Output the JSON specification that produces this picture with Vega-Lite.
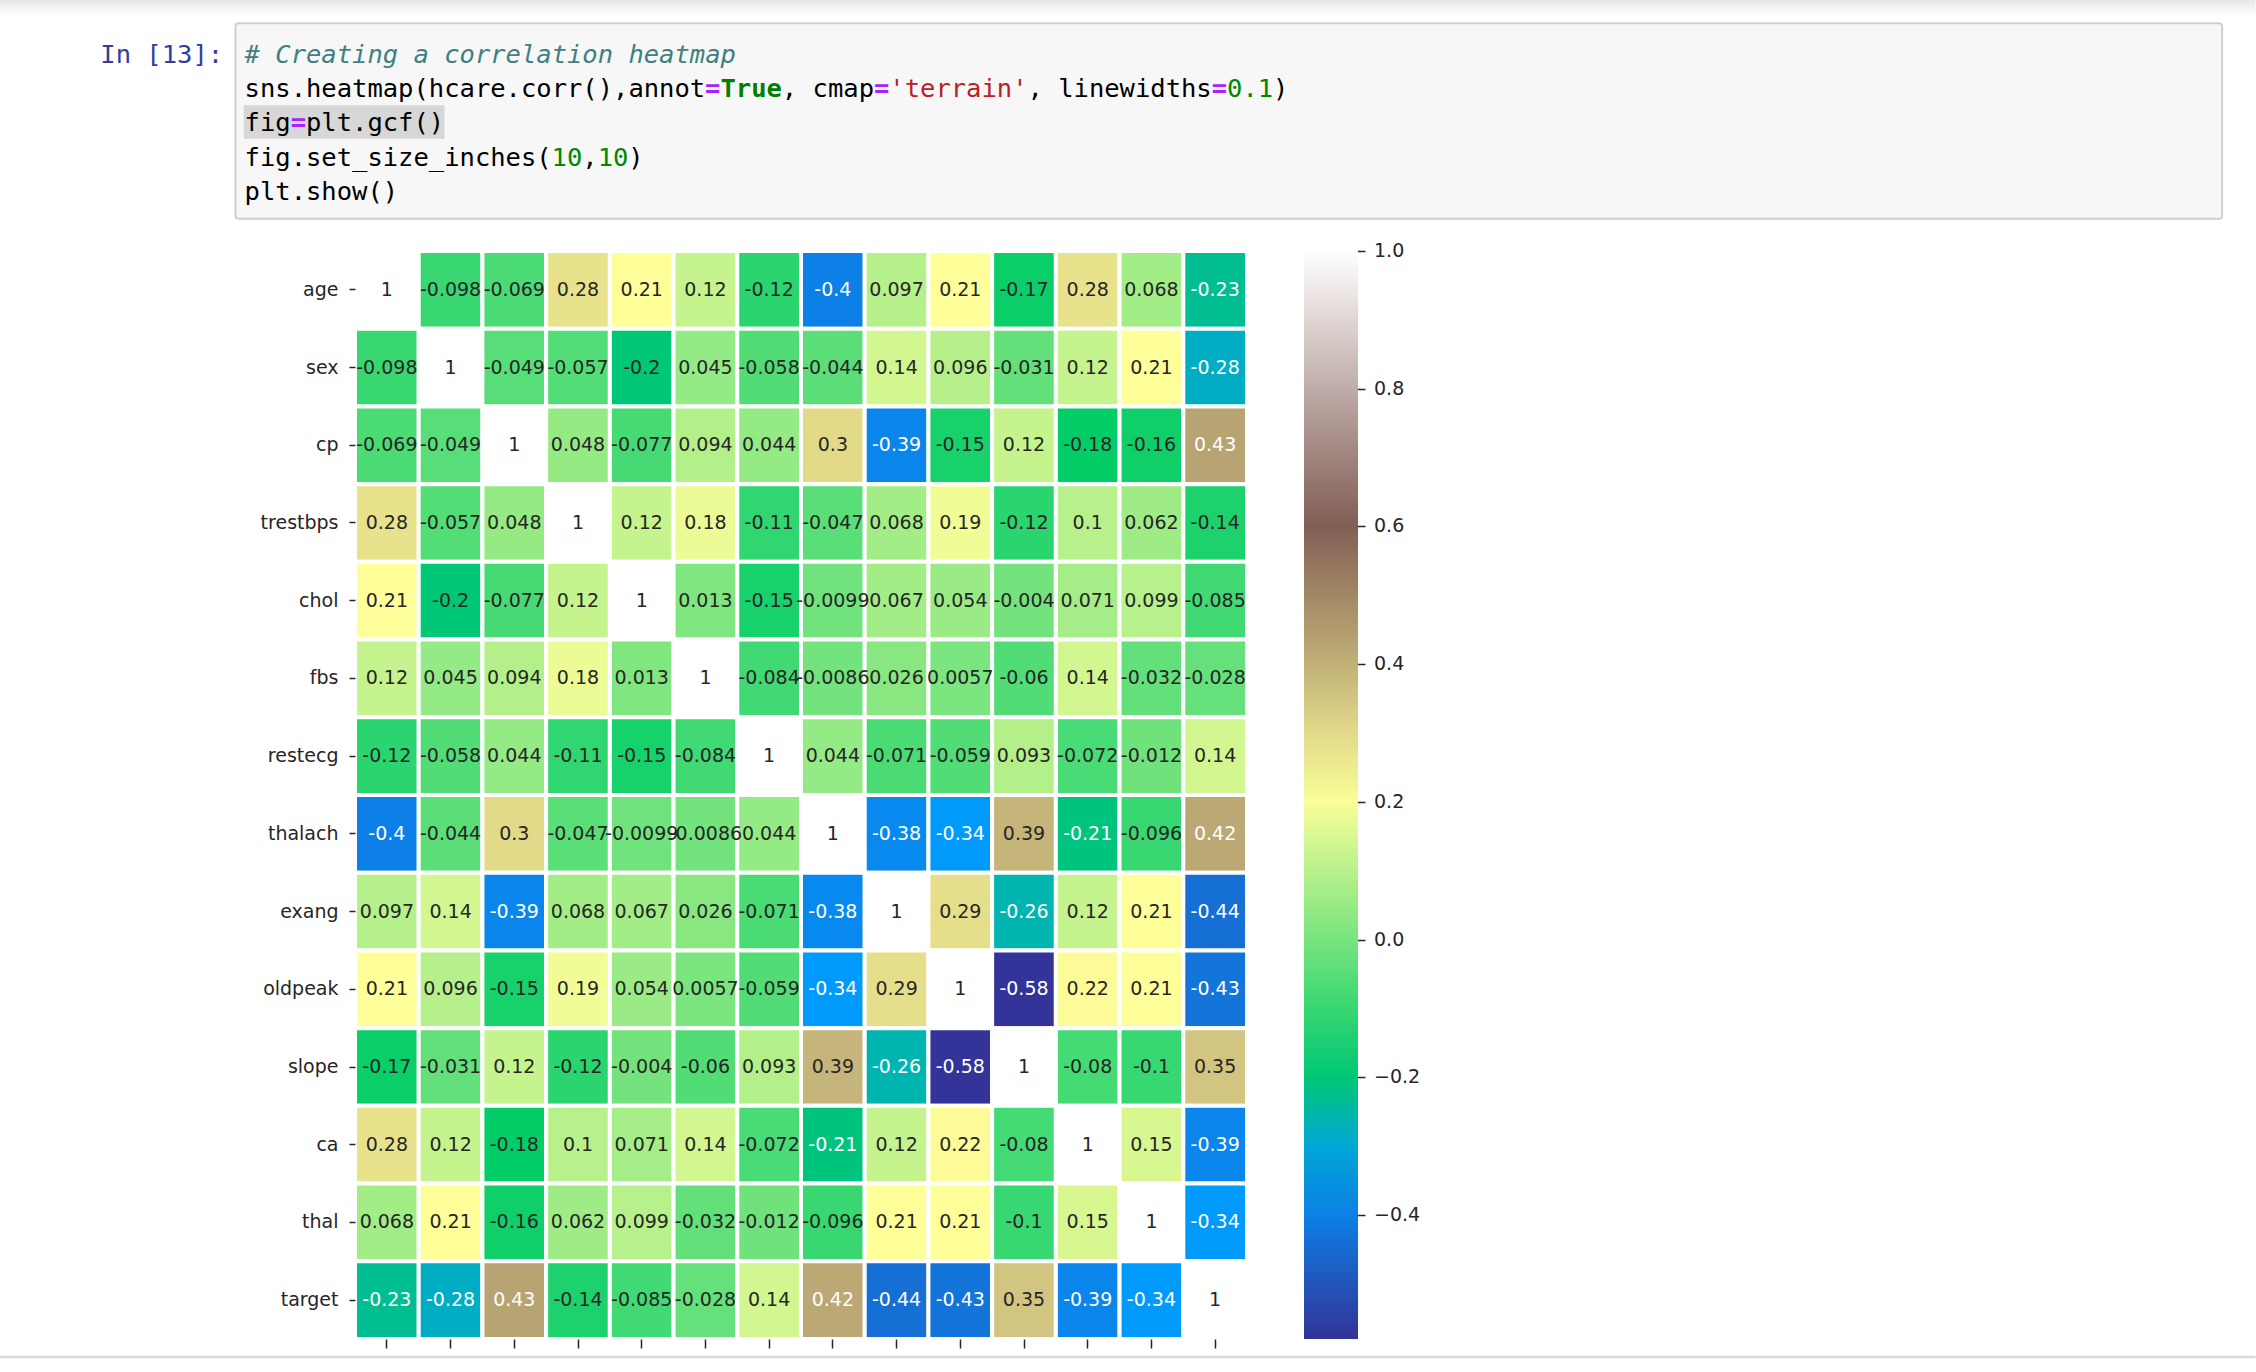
{
  "$schema": "https://vega.github.io/schema/vega-lite/v6.json",
  "width": 892,
  "height": 1088,
  "autosize": {"type": "none"},
  "padding": {"left": 355, "top": 251, "right": 1009, "bottom": 33},
  "background": "white",
  "config": {"view": {"stroke": null}},
  "datasets": {
    "corr": [
      {"r":"age","c":"age","v":1},{"r":"age","c":"sex","v":-0.098},{"r":"age","c":"cp","v":-0.069},{"r":"age","c":"trestbps","v":0.28},{"r":"age","c":"chol","v":0.21},{"r":"age","c":"fbs","v":0.12},{"r":"age","c":"restecg","v":-0.12},{"r":"age","c":"thalach","v":-0.4},{"r":"age","c":"exang","v":0.097},{"r":"age","c":"oldpeak","v":0.21},{"r":"age","c":"slope","v":-0.17},{"r":"age","c":"ca","v":0.28},{"r":"age","c":"thal","v":0.068},{"r":"age","c":"target","v":-0.23},
      {"r":"sex","c":"age","v":-0.098},{"r":"sex","c":"sex","v":1},{"r":"sex","c":"cp","v":-0.049},{"r":"sex","c":"trestbps","v":-0.057},{"r":"sex","c":"chol","v":-0.2},{"r":"sex","c":"fbs","v":0.045},{"r":"sex","c":"restecg","v":-0.058},{"r":"sex","c":"thalach","v":-0.044},{"r":"sex","c":"exang","v":0.14},{"r":"sex","c":"oldpeak","v":0.096},{"r":"sex","c":"slope","v":-0.031},{"r":"sex","c":"ca","v":0.12},{"r":"sex","c":"thal","v":0.21},{"r":"sex","c":"target","v":-0.28},
      {"r":"cp","c":"age","v":-0.069},{"r":"cp","c":"sex","v":-0.049},{"r":"cp","c":"cp","v":1},{"r":"cp","c":"trestbps","v":0.048},{"r":"cp","c":"chol","v":-0.077},{"r":"cp","c":"fbs","v":0.094},{"r":"cp","c":"restecg","v":0.044},{"r":"cp","c":"thalach","v":0.3},{"r":"cp","c":"exang","v":-0.39},{"r":"cp","c":"oldpeak","v":-0.15},{"r":"cp","c":"slope","v":0.12},{"r":"cp","c":"ca","v":-0.18},{"r":"cp","c":"thal","v":-0.16},{"r":"cp","c":"target","v":0.43},
      {"r":"trestbps","c":"age","v":0.28},{"r":"trestbps","c":"sex","v":-0.057},{"r":"trestbps","c":"cp","v":0.048},{"r":"trestbps","c":"trestbps","v":1},{"r":"trestbps","c":"chol","v":0.12},{"r":"trestbps","c":"fbs","v":0.18},{"r":"trestbps","c":"restecg","v":-0.11},{"r":"trestbps","c":"thalach","v":-0.047},{"r":"trestbps","c":"exang","v":0.068},{"r":"trestbps","c":"oldpeak","v":0.19},{"r":"trestbps","c":"slope","v":-0.12},{"r":"trestbps","c":"ca","v":0.1},{"r":"trestbps","c":"thal","v":0.062},{"r":"trestbps","c":"target","v":-0.14},
      {"r":"chol","c":"age","v":0.21},{"r":"chol","c":"sex","v":-0.2},{"r":"chol","c":"cp","v":-0.077},{"r":"chol","c":"trestbps","v":0.12},{"r":"chol","c":"chol","v":1},{"r":"chol","c":"fbs","v":0.013},{"r":"chol","c":"restecg","v":-0.15},{"r":"chol","c":"thalach","v":-0.0099},{"r":"chol","c":"exang","v":0.067},{"r":"chol","c":"oldpeak","v":0.054},{"r":"chol","c":"slope","v":-0.004},{"r":"chol","c":"ca","v":0.071},{"r":"chol","c":"thal","v":0.099},{"r":"chol","c":"target","v":-0.085},
      {"r":"fbs","c":"age","v":0.12},{"r":"fbs","c":"sex","v":0.045},{"r":"fbs","c":"cp","v":0.094},{"r":"fbs","c":"trestbps","v":0.18},{"r":"fbs","c":"chol","v":0.013},{"r":"fbs","c":"fbs","v":1},{"r":"fbs","c":"restecg","v":-0.084},{"r":"fbs","c":"thalach","v":-0.0086},{"r":"fbs","c":"exang","v":0.026},{"r":"fbs","c":"oldpeak","v":0.0057},{"r":"fbs","c":"slope","v":-0.06},{"r":"fbs","c":"ca","v":0.14},{"r":"fbs","c":"thal","v":-0.032},{"r":"fbs","c":"target","v":-0.028},
      {"r":"restecg","c":"age","v":-0.12},{"r":"restecg","c":"sex","v":-0.058},{"r":"restecg","c":"cp","v":0.044},{"r":"restecg","c":"trestbps","v":-0.11},{"r":"restecg","c":"chol","v":-0.15},{"r":"restecg","c":"fbs","v":-0.084},{"r":"restecg","c":"restecg","v":1},{"r":"restecg","c":"thalach","v":0.044},{"r":"restecg","c":"exang","v":-0.071},{"r":"restecg","c":"oldpeak","v":-0.059},{"r":"restecg","c":"slope","v":0.093},{"r":"restecg","c":"ca","v":-0.072},{"r":"restecg","c":"thal","v":-0.012},{"r":"restecg","c":"target","v":0.14},
      {"r":"thalach","c":"age","v":-0.4},{"r":"thalach","c":"sex","v":-0.044},{"r":"thalach","c":"cp","v":0.3},{"r":"thalach","c":"trestbps","v":-0.047},{"r":"thalach","c":"chol","v":-0.0099},{"r":"thalach","c":"fbs","v":-0.0086},{"r":"thalach","c":"restecg","v":0.044},{"r":"thalach","c":"thalach","v":1},{"r":"thalach","c":"exang","v":-0.38},{"r":"thalach","c":"oldpeak","v":-0.34},{"r":"thalach","c":"slope","v":0.39},{"r":"thalach","c":"ca","v":-0.21},{"r":"thalach","c":"thal","v":-0.096},{"r":"thalach","c":"target","v":0.42},
      {"r":"exang","c":"age","v":0.097},{"r":"exang","c":"sex","v":0.14},{"r":"exang","c":"cp","v":-0.39},{"r":"exang","c":"trestbps","v":0.068},{"r":"exang","c":"chol","v":0.067},{"r":"exang","c":"fbs","v":0.026},{"r":"exang","c":"restecg","v":-0.071},{"r":"exang","c":"thalach","v":-0.38},{"r":"exang","c":"exang","v":1},{"r":"exang","c":"oldpeak","v":0.29},{"r":"exang","c":"slope","v":-0.26},{"r":"exang","c":"ca","v":0.12},{"r":"exang","c":"thal","v":0.21},{"r":"exang","c":"target","v":-0.44},
      {"r":"oldpeak","c":"age","v":0.21},{"r":"oldpeak","c":"sex","v":0.096},{"r":"oldpeak","c":"cp","v":-0.15},{"r":"oldpeak","c":"trestbps","v":0.19},{"r":"oldpeak","c":"chol","v":0.054},{"r":"oldpeak","c":"fbs","v":0.0057},{"r":"oldpeak","c":"restecg","v":-0.059},{"r":"oldpeak","c":"thalach","v":-0.34},{"r":"oldpeak","c":"exang","v":0.29},{"r":"oldpeak","c":"oldpeak","v":1},{"r":"oldpeak","c":"slope","v":-0.58},{"r":"oldpeak","c":"ca","v":0.22},{"r":"oldpeak","c":"thal","v":0.21},{"r":"oldpeak","c":"target","v":-0.43},
      {"r":"slope","c":"age","v":-0.17},{"r":"slope","c":"sex","v":-0.031},{"r":"slope","c":"cp","v":0.12},{"r":"slope","c":"trestbps","v":-0.12},{"r":"slope","c":"chol","v":-0.004},{"r":"slope","c":"fbs","v":-0.06},{"r":"slope","c":"restecg","v":0.093},{"r":"slope","c":"thalach","v":0.39},{"r":"slope","c":"exang","v":-0.26},{"r":"slope","c":"oldpeak","v":-0.58},{"r":"slope","c":"slope","v":1},{"r":"slope","c":"ca","v":-0.08},{"r":"slope","c":"thal","v":-0.1},{"r":"slope","c":"target","v":0.35},
      {"r":"ca","c":"age","v":0.28},{"r":"ca","c":"sex","v":0.12},{"r":"ca","c":"cp","v":-0.18},{"r":"ca","c":"trestbps","v":0.1},{"r":"ca","c":"chol","v":0.071},{"r":"ca","c":"fbs","v":0.14},{"r":"ca","c":"restecg","v":-0.072},{"r":"ca","c":"thalach","v":-0.21},{"r":"ca","c":"exang","v":0.12},{"r":"ca","c":"oldpeak","v":0.22},{"r":"ca","c":"slope","v":-0.08},{"r":"ca","c":"ca","v":1},{"r":"ca","c":"thal","v":0.15},{"r":"ca","c":"target","v":-0.39},
      {"r":"thal","c":"age","v":0.068},{"r":"thal","c":"sex","v":0.21},{"r":"thal","c":"cp","v":-0.16},{"r":"thal","c":"trestbps","v":0.062},{"r":"thal","c":"chol","v":0.099},{"r":"thal","c":"fbs","v":-0.032},{"r":"thal","c":"restecg","v":-0.012},{"r":"thal","c":"thalach","v":-0.096},{"r":"thal","c":"exang","v":0.21},{"r":"thal","c":"oldpeak","v":0.21},{"r":"thal","c":"slope","v":-0.1},{"r":"thal","c":"ca","v":0.15},{"r":"thal","c":"thal","v":1},{"r":"thal","c":"target","v":-0.34},
      {"r":"target","c":"age","v":-0.23},{"r":"target","c":"sex","v":-0.28},{"r":"target","c":"cp","v":0.43},{"r":"target","c":"trestbps","v":-0.14},{"r":"target","c":"chol","v":-0.085},{"r":"target","c":"fbs","v":-0.028},{"r":"target","c":"restecg","v":0.14},{"r":"target","c":"thalach","v":0.42},{"r":"target","c":"exang","v":-0.44},{"r":"target","c":"oldpeak","v":-0.43},{"r":"target","c":"slope","v":0.35},{"r":"target","c":"ca","v":-0.39},{"r":"target","c":"thal","v":-0.34},{"r":"target","c":"target","v":1}
    ],
    "code": [
      {"line":0,"col":-9.4,"kind":"prompt","text":"In [13]:"},
      {"line":0,"col":0,"kind":"comment","text":"# Creating a correlation heatmap"},
      {"line":1,"col":0,"kind":"name","text":"sns.heatmap(hcare.corr(),annot"},
      {"line":1,"col":30,"kind":"operator","text":"="},
      {"line":1,"col":31,"kind":"keyword","text":"True"},
      {"line":1,"col":35,"kind":"name","text":", cmap"},
      {"line":1,"col":41,"kind":"operator","text":"="},
      {"line":1,"col":42,"kind":"string","text":"'terrain'"},
      {"line":1,"col":51,"kind":"name","text":", linewidths"},
      {"line":1,"col":63,"kind":"operator","text":"="},
      {"line":1,"col":64,"kind":"number","text":"0.1"},
      {"line":1,"col":67,"kind":"name","text":")"},
      {"line":2,"col":0,"kind":"name","text":"fig"},
      {"line":2,"col":3,"kind":"operator","text":"="},
      {"line":2,"col":4,"kind":"name","text":"plt.gcf()"},
      {"line":3,"col":0,"kind":"name","text":"fig.set_size_inches("},
      {"line":3,"col":20,"kind":"number","text":"10"},
      {"line":3,"col":22,"kind":"name","text":","},
      {"line":3,"col":23,"kind":"number","text":"10"},
      {"line":3,"col":25,"kind":"name","text":")"},
      {"line":4,"col":0,"kind":"name","text":"plt.show()"}
    ]
  },
  "resolve": {"scale": {"x": "independent", "y": "independent", "color": "independent"}},
  "layer": [
    {
      "data": {"name": "corr"},
      "transform": [{"calculate": "replace(format(datum.v, '.2~g'), '\u2212', '-')", "as": "label"}],
      "encoding": {
        "x": {
          "field": "c", "type": "nominal",
          "sort": ["age","sex","cp","trestbps","chol","fbs","restecg","thalach","exang","oldpeak","slope","ca","thal","target"],
          "scale": {"type": "band", "paddingInner": 0, "paddingOuter": 0},
          "axis": {"title": null, "orient": "bottom", "labels": false, "domain": false, "grid": false, "ticks": true, "tickSize": 9, "tickWidth": 1.5, "tickColor": "#262626"}
        },
        "y": {
          "field": "r", "type": "nominal",
          "sort": ["age","sex","cp","trestbps","chol","fbs","restecg","thalach","exang","oldpeak","slope","ca","thal","target"],
          "scale": {"type": "band", "paddingInner": 0, "paddingOuter": 0},
          "axis": {"title": null, "orient": "left", "domain": false, "grid": false, "ticks": true, "tickSize": 6, "tickWidth": 1.5, "tickColor": "#262626", "labelFont": "DejaVu Sans", "labelFontSize": 19, "labelColor": "#262626", "labelPadding": 11}
        }
      },
      "layer": [
        {
          "mark": {"type": "rect", "stroke": "white", "strokeWidth": 4},
          "encoding": {
            "color": {
              "field": "v", "type": "quantitative",
              "scale": {"type": "linear", "domain": [-0.58, -0.343, -0.185, 0.21, 0.605, 1], "range": ["#333399", "#0099ff", "#00cc66", "#ffff99", "#805c54", "#ffffff"], "interpolate": "rgb", "clamp": true},
              "legend": {
                "title": null, "orient": "right", "offset": -62, "padding": 0, "direction": "vertical",
                "gradientLength": 1088, "gradientThickness": 54, "gradientStrokeWidth": 0,
                "values": [-0.4, -0.2, 0, 0.2, 0.4, 0.6, 0.8, 1],
                "format": ".1f",
                "labelFont": "DejaVu Sans", "labelFontSize": 19, "labelColor": "#262626",
                "labelOffset": 16, "labelOverlap": false, "labelBaseline": "middle",
                "encode": {"labels": {"update": {"baseline": {"value": "middle"}}}}
              }
            }
          }
        },
        {
          "mark": {"type": "text", "font": "DejaVu Sans", "fontSize": 19, "baseline": "middle", "align": "center"},
          "encoding": {
            "text": {"field": "label"},
            "color": {"condition": {"test": "datum.v < -0.205 || (datum.v > 0.415 && datum.v < 0.9)", "value": "#ffffff"}, "value": "#262626"}
          }
        }
      ]
    },
    {
      "data": {"values": [{}]},
      "mark": {"type": "rule", "opacity": 0},
      "encoding": {
        "y": {
          "datum": 0, "type": "quantitative",
          "scale": {"domain": [-0.58, 1], "zero": false, "nice": false},
          "axis": {"orient": "right", "offset": 110, "values": [-0.4, -0.2, 0, 0.2, 0.4, 0.6, 0.8, 1], "labels": false, "domain": false, "grid": false, "ticks": true, "tickSize": 8, "tickWidth": 1.5, "tickColor": "#262626", "title": null}
        }
      }
    },
    {
      "data": {"name": "code"},
      "layer": [
        {
          "data": {"values": [{}]},
          "mark": {"type": "rect", "fill": {"gradient": "linear", "x1": 0, "y1": 0, "x2": 0, "y2": 1, "stops": [{"offset": 0, "color": "#e6e6e6"}, {"offset": 1, "color": "#ffffff"}]}},
          "encoding": {
            "x": {"datum": -16, "type": "quantitative", "scale": {"domain": [7.192, 65.3], "zero": false, "nice": false}, "axis": null},
            "x2": {"datum": 131},
            "y": {"datum": -1.61, "type": "quantitative", "scale": {"domain": [5.731, 37.544], "zero": false, "nice": false, "reverse": true}, "axis": null},
            "y2": {"datum": -1.14}
          }
        },
        {
          "data": {"values": [{}]},
          "mark": {"type": "rect", "fill": "#f7f7f7", "stroke": "#cfcfcf", "strokeWidth": 2, "cornerRadius": 3},
          "encoding": {
            "x": {"datum": -0.593, "type": "quantitative", "scale": {"domain": [7.192, 65.3], "zero": false, "nice": false}, "axis": null},
            "x2": {"datum": 128.82},
            "y": {"datum": -0.927, "type": "quantitative", "scale": {"domain": [5.731, 37.544], "zero": false, "nice": false, "reverse": true}, "axis": null},
            "y2": {"datum": 4.787}
          }
        },
        {
          "data": {"values": [{}]},
          "mark": {"type": "rect", "fill": "#d7d7d7"},
          "encoding": {
            "x": {"datum": -0.05, "type": "quantitative", "scale": {"domain": [7.192, 65.3], "zero": false, "nice": false}, "axis": null},
            "x2": {"datum": 13.02},
            "y": {"datum": 1.471, "type": "quantitative", "scale": {"domain": [5.731, 37.544], "zero": false, "nice": false, "reverse": true}, "axis": null},
            "y2": {"datum": 2.447}
          }
        },
        {
          "data": {"values": [{}]},
          "mark": {"type": "rule", "stroke": "#dadada", "strokeWidth": 2.5},
          "encoding": {
            "x": {"datum": -16, "type": "quantitative", "scale": {"domain": [7.192, 65.3], "zero": false, "nice": false}, "axis": null},
            "x2": {"datum": 131},
            "y": {"datum": 38.07, "type": "quantitative", "scale": {"domain": [5.731, 37.544], "zero": false, "nice": false, "reverse": true}, "axis": null}
          }
        },
        {
          "transform": [{"filter": "datum.kind == 'name' || datum.kind == 'string' || datum.kind == 'number' || datum.kind == 'prompt'"}],
          "mark": {"type": "text", "font": "DejaVu Sans Mono", "fontSize": 25.5, "align": "left", "baseline": "middle"},
          "encoding": {
            "x": {"field": "col", "type": "quantitative", "scale": {"domain": [7.192, 65.3], "zero": false, "nice": false}, "axis": null},
            "y": {"field": "line", "type": "quantitative", "scale": {"domain": [5.731, 37.544], "zero": false, "nice": false, "reverse": true}, "axis": null},
            "text": {"field": "text"},
            "color": {"field": "kind", "type": "nominal", "scale": {"domain": ["name", "operator", "keyword", "string", "number", "comment", "prompt"], "range": ["#000000", "#aa22ff", "#008000", "#ba2121", "#008800", "#408080", "#303f9f"]}, "legend": null}
          }
        },
        {
          "transform": [{"filter": "datum.kind == 'comment'"}],
          "mark": {"type": "text", "font": "DejaVu Sans Mono", "fontSize": 25.5, "fontStyle": "italic", "align": "left", "baseline": "middle"},
          "encoding": {
            "x": {"field": "col", "type": "quantitative", "scale": {"domain": [7.192, 65.3], "zero": false, "nice": false}, "axis": null},
            "y": {"field": "line", "type": "quantitative", "scale": {"domain": [5.731, 37.544], "zero": false, "nice": false, "reverse": true}, "axis": null},
            "text": {"field": "text"},
            "color": {"field": "kind", "type": "nominal", "scale": {"domain": ["name", "operator", "keyword", "string", "number", "comment", "prompt"], "range": ["#000000", "#aa22ff", "#008000", "#ba2121", "#008800", "#408080", "#303f9f"]}, "legend": null}
          }
        },
        {
          "transform": [{"filter": "datum.kind == 'keyword' || datum.kind == 'operator'"}],
          "mark": {"type": "text", "font": "DejaVu Sans Mono", "fontSize": 25.5, "fontWeight": "bold", "align": "left", "baseline": "middle"},
          "encoding": {
            "x": {"field": "col", "type": "quantitative", "scale": {"domain": [7.192, 65.3], "zero": false, "nice": false}, "axis": null},
            "y": {"field": "line", "type": "quantitative", "scale": {"domain": [5.731, 37.544], "zero": false, "nice": false, "reverse": true}, "axis": null},
            "text": {"field": "text"},
            "color": {"field": "kind", "type": "nominal", "scale": {"domain": ["name", "operator", "keyword", "string", "number", "comment", "prompt"], "range": ["#000000", "#aa22ff", "#008000", "#ba2121", "#008800", "#408080", "#303f9f"]}, "legend": null}
          }
        }
      ]
    }
  ]
}
